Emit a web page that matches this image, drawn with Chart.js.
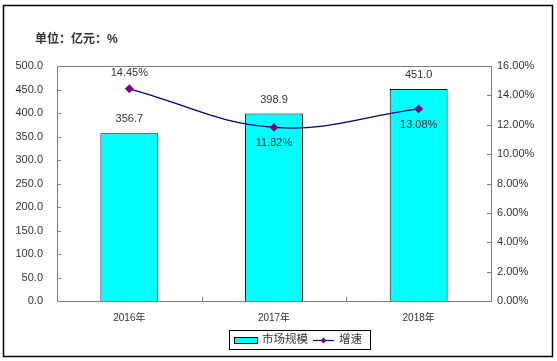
<!DOCTYPE html>
<html>
<head>
<meta charset="utf-8">
<script src="https://cdn.jsdelivr.net/npm/chart.js@4/dist/chart.umd.min.js"></script>
<style>
  html, body { margin: 0; padding: 0; background: #fff; }
  canvas { display: block; }
</style>
</head>
<body>
<canvas id="chart" width="557" height="361"></canvas>
<script>
const years = ['2016年', '2017年', '2018年'];
const marketSize = [356.7, 398.9, 451.0];   // 亿元
const growthRate = [14.45, 11.82, 13.08];   // %
const leftTicks = [0, 50, 100, 150, 200, 250, 300, 350, 400, 450, 500];
const rightTicks = [0, 2, 4, 6, 8, 10, 12, 14, 16];

const FONT = '"Liberation Sans", Arial, "Noto Sans CJK SC", sans-serif';
const TEXT = '#333333';
const AXIS = '#808080';

// frame, inward tick marks, value labels, legend, unit title
const decor = {
    id: 'decor',
    beforeDraw(chart) {
        const c = chart.ctx;
        c.save();
        c.fillStyle = '#fff';
        c.fillRect(0, 0, chart.width, chart.height);
        c.restore();
    },
    afterDatasetsDraw(chart) {
        const c = chart.ctx;
        const a = chart.chartArea;
        const { x, y, y1 } = chart.scales;
        c.save();

        // plot box
        c.strokeStyle = AXIS;
        c.lineWidth = 1;
        c.strokeRect(Math.round(a.left) + 0.5, Math.round(a.top) + 0.5,
            Math.round(a.right - a.left), Math.round(a.bottom - a.top));

        // tick marks pointing inside
        c.beginPath();
        leftTicks.forEach(v => {
            const py = Math.round(y.getPixelForValue(v)) + 0.5;
            c.moveTo(a.left, py); c.lineTo(a.left + 4, py);
        });
        rightTicks.forEach(v => {
            const py = Math.round(y1.getPixelForValue(v)) + 0.5;
            c.moveTo(a.right, py); c.lineTo(a.right - 4, py);
        });
        for (let i = 1; i < years.length; i++) {
            const px = Math.round((x.getPixelForValue(i - 1) + x.getPixelForValue(i)) / 2) + 0.5;
            c.moveTo(px, a.bottom); c.lineTo(px, a.bottom - 4);
        }
        c.stroke();

        // value labels
        c.font = '11px ' + FONT;
        c.fillStyle = TEXT;
        c.textAlign = 'center';
        c.textBaseline = 'middle';
        const barMeta = chart.getDatasetMeta(1);
        barMeta.data.forEach((bar, i) => {
            c.fillText(marketSize[i].toFixed(1), bar.x, bar.y - 14);
        });
        const lineMeta = chart.getDatasetMeta(0);
        lineMeta.data.forEach((pt, i) => {
            const dy = i === 0 ? -16 : 16;
            c.fillText(growthRate[i].toFixed(2) + '%', pt.x, pt.y + dy);
        });

        // unit title
        c.font = 'bold 12px ' + FONT;
        c.textAlign = 'left';
        c.fillText('单位：亿元：%', 35, 40);

        // legend
        const lx = 229, ly = 330, lw = 141, lh = 19;
        c.strokeStyle = '#000';
        c.lineWidth = 1;
        c.strokeRect(lx + 0.5, ly + 0.5, lw, lh);
        c.fillStyle = '#00FFFF';
        c.fillRect(lx + 5, ly + 7, 23, 6);
        c.strokeRect(lx + 5.5, ly + 7.5, 23, 6);
        c.font = '11.5px ' + FONT;
        c.fillStyle = TEXT;
        c.fillText(chart.data.datasets[1].label, lx + 33, ly + 10);
        c.strokeStyle = '#000080';
        c.lineWidth = 1.2;
        c.beginPath();
        c.moveTo(lx + 84, ly + 10.5); c.lineTo(lx + 105, ly + 10.5);
        c.stroke();
        c.fillStyle = '#800080';
        c.beginPath();
        const dx = lx + 94.5, dyc = ly + 10.5;
        c.moveTo(dx, dyc - 3); c.lineTo(dx + 3, dyc); c.lineTo(dx, dyc + 3); c.lineTo(dx - 3, dyc);
        c.closePath(); c.fill();
        c.fillStyle = TEXT;
        c.fillText(chart.data.datasets[0].label, lx + 110, ly + 10);

        // outer frame
        c.strokeStyle = '#000';
        c.lineWidth = 1.5;
        c.strokeRect(3.5, 5.5, 549, 351);
        c.restore();
    }
};

new Chart(document.getElementById('chart'), {
    type: 'bar',
    data: {
        labels: years,
        datasets: [{
            type: 'line',
            label: '增速',
            data: growthRate,
            yAxisID: 'y1',
            borderColor: '#000080',
            borderWidth: 1.3,
            pointStyle: 'rectRot',
            pointRadius: 3.5,
            pointBackgroundColor: '#800080',
            pointBorderColor: '#800080',
            tension: 0.4,
            order: 0
        }, {
            label: '市场规模',
            data: marketSize,
            yAxisID: 'y',
            backgroundColor: '#00FFFF',
            borderColor: '#000000',
            borderWidth: 1,
            categoryPercentage: 1,
            barPercentage: 0.4,
            order: 1
        }]
    },
    options: {
        responsive: false,
        animation: false,
        layout: { padding: { top: 66, left: 0, right: 0, bottom: 0 } },
        plugins: { legend: { display: false }, tooltip: { enabled: false } },
        scales: {
            x: {
                grid: { display: false, drawTicks: false },
                border: { color: AXIS },
                ticks: { color: TEXT, font: { size: 10, family: FONT }, padding: 11 },
                afterFit(s) { s.height = 60; }
            },
            y: {
                position: 'left',
                min: 0, max: 500,
                afterBuildTicks(s) { s.ticks = leftTicks.map(v => ({ value: v })); },
                grid: { display: false, drawTicks: false },
                border: { color: AXIS },
                ticks: {
                    color: TEXT, font: { size: 11, family: FONT }, padding: 14,
                    callback: v => v.toFixed(1)
                },
                afterFit(s) { s.width = 57; }
            },
            y1: {
                position: 'right',
                min: 0, max: 16,
                afterBuildTicks(s) { s.ticks = rightTicks.map(v => ({ value: v })); },
                grid: { display: false, drawTicks: false },
                border: { color: AXIS },
                ticks: {
                    color: TEXT, font: { size: 11, family: FONT }, padding: 6,
                    callback: v => v.toFixed(2) + '%'
                },
                afterFit(s) { s.width = 66; }
            }
        }
    },
    plugins: [decor]
});
</script>
</body>
</html>
